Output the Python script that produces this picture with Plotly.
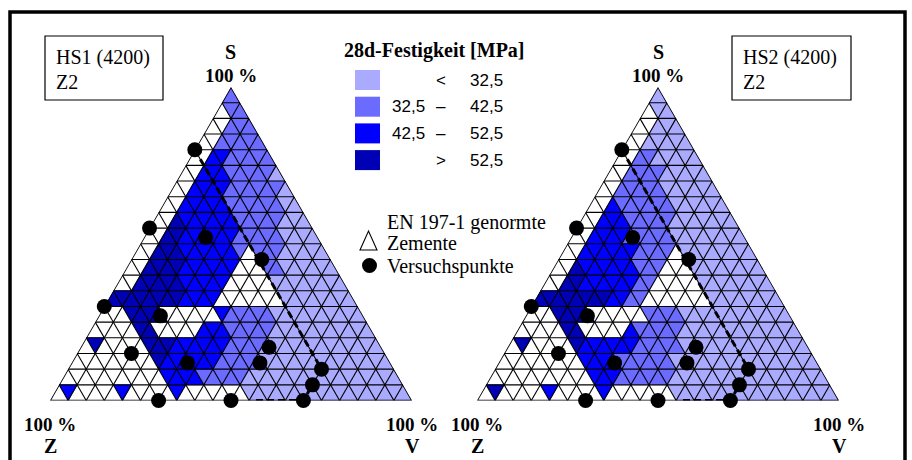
import plotly.graph_objects as go

W, H = 912, 460
N = 20  # grid divisions per side (5 % steps)

# strength classes per grid cell, row by row from the S apex;
# w = no value, l = < 32,5, m = 32,5-42,5, b = 42,5-52,5, d = > 52,5
CLASS_COLORS = {"l": "#AAAAFF", "m": "#6B6BFF", "b": "#0000FF", "d": "#0000B4"}

HS1_ROWS = [
    "m",
    "wmm",
    "wwmmm",
    "wwmmmmm",
    "wwbbmmmmm",
    "wwbbbmmmmml",
    "wwbbbbmmmmmml",
    "wwbbbbbmmmmmmll",
    "wwdbbbbbbmmmmmlll",
    "wwddbbbbbbmmmmmllll",
    "wwdddbbbbbbmwmmmlllll",
    "wwddddbbbbbbwwwmmllllll",
    "wwdddddbbbbbwwwwwllllllll",
    "ddddddddbbbbwwwwwwwllllllll",
    "wwwddddwwwwwwbmmmmmllllllllll",
    "wwwwwddwwwwwbbbmmmmmlllllllllll",
    "wdwwwwwdddbbbbbbmmmmlllllllllllll",
    "wwwwwwwwwdbbbbbbmmmmmllllllllllllll",
    "wwwwwwwwwwwbbbbmmmmmlllllllllllllllll",
    "wbwwwwwbwwwwwbwwwwwwwllllllllllllllllll",
]

HS2_ROWS = [
    "l",
    "wll",
    "wwlll",
    "wwlllll",
    "wwmmlllll",
    "wwmmmmlllll",
    "wwmmmmmllllll",
    "wwbmmmmmmllllll",
    "wwbbbmmmmmlllllll",
    "wwbbbbmmmmmllllllll",
    "wwbbbbbbmmmmwllllllll",
    "wwdbbbbbbmmmwwwllllllll",
    "wwddbbbbbbmmwwwwwllllllll",
    "ddddddddbbmmwwwwwwwllllllll",
    "wwwddddwwwwwwmmmmllllllllllll",
    "wwwwwddwwwwwbmmmmmlllllllllllll",
    "wdwwwwwdbbbbbbmmmmmllllllllllllll",
    "wwwwwwwwwbbbbmmmmmmllllllllllllllll",
    "wwwwwwwwwwwbbbmmmmmmlllllllllllllllll",
    "wdwwwwwbwwwwwbwwwwwwwllllllllllllllllll",
]

# test mixtures (S, Z, V in %)
PT_S = [80, 55, 30, 52, 45, 27, 15, 12, 17, 12, 10, 5, 0, 0, 0]
PT_Z = [20, 45, 70, 31, 19, 56, 70, 56, 31, 36, 20, 25, 30, 50, 70]
PT_V = [0, 0, 0, 17, 36, 17, 15, 32, 52, 52, 70, 70, 70, 50, 30]

# dashed limit line (S, Z, V in %)
LIMIT_S = [80, 10, 5, 0, 0]
LIMIT_Z = [20, 20, 25, 30, 44]
LIMIT_V = [0, 70, 70, 70, 56]

LEGEND_COLORS = ["#AAAAFF", "#6B6BFF", "#0000FF", "#0000B4"]
LEGEND_LEFT = ["", "32,5", "42,5", ""]
LEGEND_SIGN = ["<", "\u2013", "\u2013", ">"]
LEGEND_RIGHT = ["32,5", "42,5", "52,5", "52,5"]

SERIF = "Liberation Serif"
SANS = "Liberation Sans"


def px(x):
    return x / W


def py(y):
    return 1 - y / H


def cell(r, k):
    step = 100 / N
    a = N - 1 - r
    if k % 2 == 0:
        m = k // 2
        b, c = r - m, m
        verts = [(a + 1, b, c), (a, b + 1, c), (a, b, c + 1)]
    else:
        m = (k - 1) // 2
        b, c = r - 1 - m, m
        verts = [(a, b + 1, c + 1), (a + 1, b, c + 1), (a + 1, b + 1, c)]
    return [tuple(v * step for v in p) for p in verts]


fig = go.Figure()


def add_diagram(rows, subplot):
    for code, color in CLASS_COLORS.items():
        A, B, C = [], [], []
        for r, row in enumerate(rows):
            for k, ch in enumerate(row):
                if ch != code:
                    continue
                for a, b, c in cell(r, k):
                    A.append(a)
                    B.append(b)
                    C.append(c)
                A.append(None)
                B.append(None)
                C.append(None)
        if A:
            fig.add_trace(go.Scatterternary(
                a=A, b=B, c=C, mode="lines", fill="toself", fillcolor=color,
                line=dict(color=color, width=0.6), hoverinfo="skip",
                subplot=subplot, showlegend=False))

    # triangular grid and outline
    step = 100 / N
    A, B, C = [], [], []
    for i in range(1, N):
        t = i * step
        for seg in (((t, 100 - t, 0), (t, 0, 100 - t)),
                    ((100 - t, t, 0), (0, t, 100 - t)),
                    ((100 - t, 0, t), (0, 100 - t, t))):
            for a, b, c in seg:
                A.append(a)
                B.append(b)
                C.append(c)
            A.append(None)
            B.append(None)
            C.append(None)
    fig.add_trace(go.Scatterternary(
        a=A, b=B, c=C, mode="lines", line=dict(color="black", width=1.1),
        hoverinfo="skip", subplot=subplot, showlegend=False))
    fig.add_trace(go.Scatterternary(
        a=[100, 0, 0, 100], b=[0, 100, 0, 0], c=[0, 0, 100, 0], mode="lines",
        line=dict(color="black", width=1.6), hoverinfo="skip",
        subplot=subplot, showlegend=False, cliponaxis=False))

    fig.add_trace(go.Scatterternary(
        a=LIMIT_S, b=LIMIT_Z, c=LIMIT_V, mode="lines",
        line=dict(color="black", width=3, dash="7px,4px"),
        hoverinfo="skip", subplot=subplot, showlegend=False, cliponaxis=False))
    fig.add_trace(go.Scatterternary(
        a=PT_S, b=PT_Z, c=PT_V, mode="markers",
        marker=dict(color="black", size=15, line=dict(width=0)),
        hoverinfo="skip", subplot=subplot, showlegend=False, cliponaxis=False))


add_diagram(HS1_ROWS, "ternary")
add_diagram(HS2_ROWS, "ternary2")

axis = dict(showgrid=False, showline=False, showticklabels=False, ticks="",
            title=dict(text=""), linewidth=0)
tern = dict(sum=100, bgcolor="rgba(0,0,0,0)", aaxis=axis, baxis=axis, caxis=axis)

shapes = []
annotations = []


def text(x, y, s, size=20, family=SERIF, xanchor="center", bold=False):
    if bold:
        s = "<b>" + s + "</b>"
    annotations.append(dict(
        x=px(x), y=py(y), xref="paper", yref="paper", text=s, showarrow=False,
        xanchor=xanchor, yanchor="middle", font=dict(family=family, size=size, color="black")))


# outer frame
shapes.append(dict(type="rect", xref="paper", yref="paper",
                   x0=px(10), x1=px(905), y0=py(475), y1=py(12),
                   line=dict(color="black", width=3.5)))

# corner labels for both diagrams
for apex_x, left_x, right_x in ((231, 50, 412), (658, 477, 839)):
    text(apex_x, 52, "S", size=20, bold=True)
    text(apex_x, 75, "100 %", size=19, bold=True)
    text(left_x, 424, "100 %", size=19, bold=True)
    text(left_x, 446, "Z", size=20, bold=True)
    text(right_x, 424, "100 %", size=19, bold=True)
    text(right_x, 446, "V", size=20, bold=True)

# sample boxes
for x0, x1, label in ((45, 163, "HS1 (4200)"), (732, 851, "HS2 (4200)")):
    shapes.append(dict(type="rect", xref="paper", yref="paper",
                       x0=px(x0), x1=px(x1), y0=py(100), y1=py(36),
                       line=dict(color="black", width=1.2), fillcolor="white"))
    text(x0 + 9, 58, label, size=20, xanchor="left")
    text(x0 + 9, 82, "Z2", size=20, xanchor="left")

# strength legend
text(434, 50, "28d-Festigkeit [MPa]", size=20, bold=True)
for i, col in enumerate(LEGEND_COLORS):
    yc = 80 + i * 26.7
    shapes.append(dict(type="rect", xref="paper", yref="paper",
                       x0=px(355), x1=px(380), y0=py(yc + 10), y1=py(yc - 10),
                       line=dict(width=0), fillcolor=col))
    if LEGEND_LEFT[i]:
        text(390, yc, LEGEND_LEFT[i], size=17, family=SANS, xanchor="left")
    text(441, yc, LEGEND_SIGN[i], size=17, family=SANS)
    text(468, yc, LEGEND_RIGHT[i], size=17, family=SANS, xanchor="left")

shapes.append(dict(type="path", xref="paper", yref="paper",
                   path=f"M {px(360)} {py(250)} L {px(377)} {py(250)} L {px(368.5)} {py(231)} Z",
                   line=dict(color="black", width=1.1), fillcolor="white"))
text(385, 222, "EN 197-1 genormte", size=20, xanchor="left")
text(385, 243, "Zemente", size=20, xanchor="left")
shapes.append(dict(type="circle", xref="paper", yref="paper",
                   x0=px(362), x1=px(377), y0=py(273), y1=py(258),
                   line=dict(width=0), fillcolor="black"))
text(385, 266, "Versuchspunkte", size=20, xanchor="left")

fig.update_layout(
    width=W, height=H, margin=dict(l=0, r=0, t=0, b=0),
    paper_bgcolor="white", plot_bgcolor="white", showlegend=False,
    ternary=dict(domain=dict(x=[px(50), px(412)], y=[py(400.5), py(87)]), **tern),
    ternary2=dict(domain=dict(x=[px(477), px(839)], y=[py(400.5), py(87)]), **tern),
    shapes=shapes, annotations=annotations,
)

fig.write_html("out.html")
